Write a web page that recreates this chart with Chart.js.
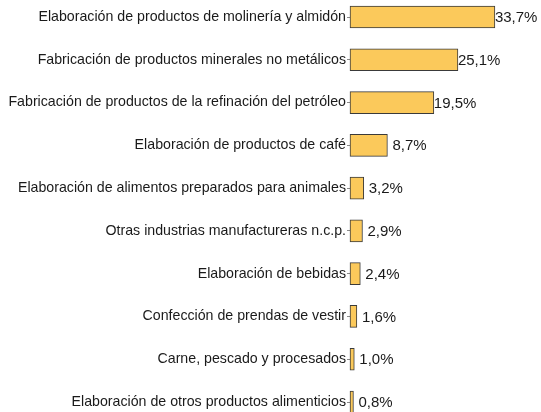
<!DOCTYPE html>
<html>
<head>
<meta charset="utf-8">
<script src="https://cdn.jsdelivr.net/npm/chart.js@4/dist/chart.umd.min.js"></script>
<style>
  html, body { margin: 0; padding: 0; background: #fff; }
  #wrap { width: 541px; height: 412px; position: relative; }
</style>
</head>
<body>
<div id="wrap"><canvas id="chart"></canvas></div>
<script>
// Industry shares, top to bottom
const categories = [
  'Elaboración de productos de molinería y almidón',
  'Fabricación de productos minerales no metálicos',
  'Fabricación de productos de la refinación del petróleo',
  'Elaboración de productos de café',
  'Elaboración de alimentos preparados para animales',
  'Otras industrias manufactureras n.c.p.',
  'Elaboración de bebidas',
  'Confección de prendas de vestir',
  'Carne, pescado y procesados',
  'Elaboración de otros productos alimenticios'
]
const shares = [33.7, 25.1, 19.5, 8.7, 3.2, 2.9, 2.4, 1.6, 1.0, 0.8]

const FONT = "'Liberation Sans', Arial, sans-serif"

// Draw the percentage next to each bar end
const valueLabels = {
  id: 'valueLabels',
  afterDatasetsDraw(chart) {
    const ctx = chart.ctx
    const meta = chart.getDatasetMeta(0)
    ctx.save()
    ctx.font = '15px ' + FONT
    ctx.fillStyle = '#1a1a1a'
    ctx.textBaseline = 'middle'
    ctx.textAlign = 'left'
    meta.data.forEach((bar, i) => {
      const v = shares[i]
      const gap = v > 15 ? 0 : 5
      ctx.fillText(v.toFixed(1).replace('.', ',') + '%', bar.x + gap, bar.y + 1)
    })
    ctx.restore()
  }
}

new Chart(document.getElementById('chart'), {
  type: 'bar',
  data: {
    labels: categories,
    datasets: [{
      data: shares,
      backgroundColor: '#FBC95B',
      borderColor: '#3a3a3a',
      borderWidth: 1,
      borderSkipped: false,
      barThickness: 22,
      clip: false
    }]
  },
  options: {
    indexAxis: 'y',
    responsive: true,
    maintainAspectRatio: false,
    animation: false,
    layout: { padding: { top: 17, bottom: 10, right: 19, left: 0 } },
    plugins: {
      legend: { display: false },
      tooltip: { enabled: false }
    },
    scales: {
      x: {
        display: false,
        min: 0,
        max: 40
      },
      y: {
        offset: false,
        afterFit(scale) { scale.width = 350 },
        border: { display: false },
        grid: {
          offset: false,
          drawOnChartArea: false,
          tickLength: 3,
          color: '#8a8a8a'
        },
        ticks: {
          padding: 1,
          color: '#1a1a1a',
          font: { family: FONT, size: 14.2 }
        }
      }
    }
  },
  plugins: [valueLabels]
})
</script>
</body>
</html>
